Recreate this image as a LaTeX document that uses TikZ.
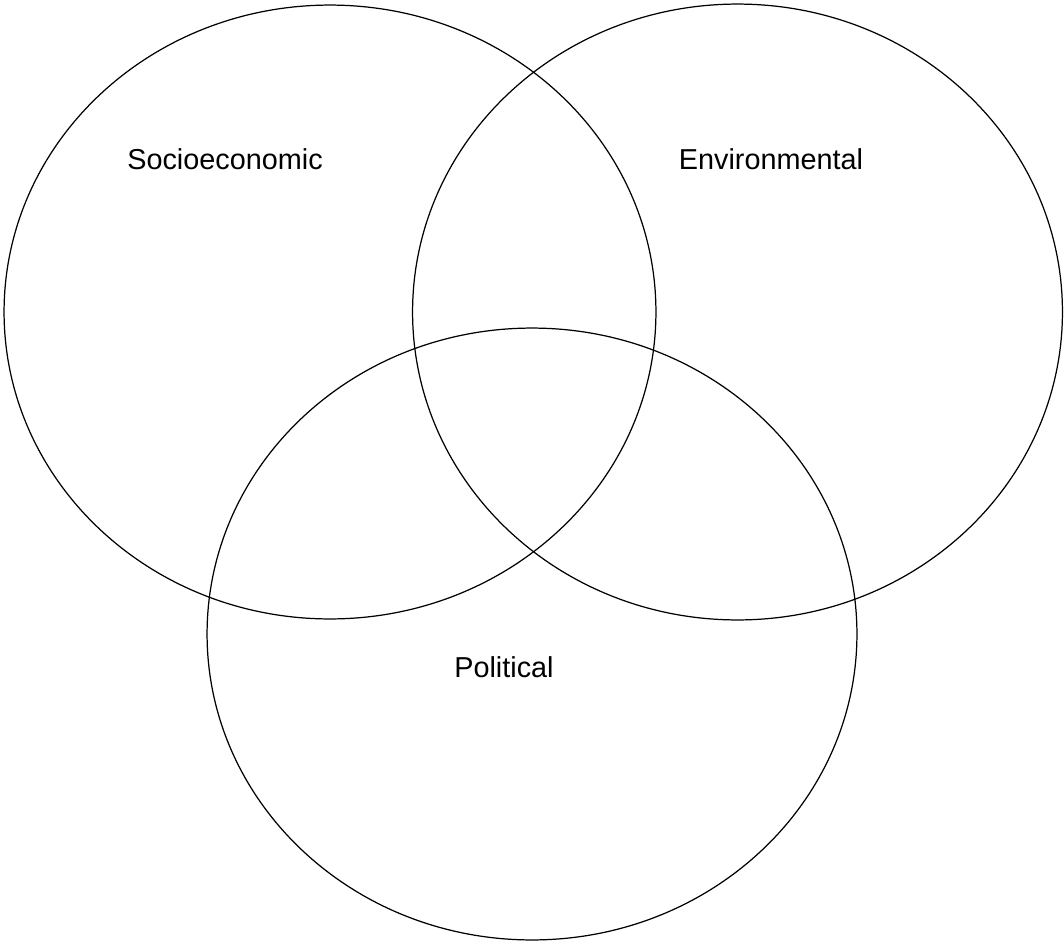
\documentclass[tikz,border=0pt]{standalone}
\usepackage{fontspec}
\setmainfont{Liberation Sans}
\usetikzlibrary{shapes.geometric,positioning}

\begin{document}
\begin{tikzpicture}[x=0.02cm, y=-0.02cm,
set/.style = {draw=black, line width=0.7pt, ellipse, inner sep=0pt},
lbl/.style = {anchor=base, inner sep=0pt, font=\fontsize{16.4}{20}\selectfont}]

\useasboundingbox (0,0) rectangle (1064,943);

% the three sets
\node [set, minimum width=13.04cm, minimum height=12.28cm] (socio) at (330,312) {};
\node [set, minimum width=13.0cm, minimum height=12.32cm] (envir) at (737.5,312) {};
\node [set, minimum width=13.0cm, minimum height=12.24cm] (polit) at (532,634) {};

% labels
\node [lbl] (sociolbl) at (225,169) {Socioeconomic};
\node [lbl] (envirlbl) at (771,169) {Environmental};
\node [lbl] (politlbl) at (504,677) {Political};
\end{tikzpicture}
\end{document}
